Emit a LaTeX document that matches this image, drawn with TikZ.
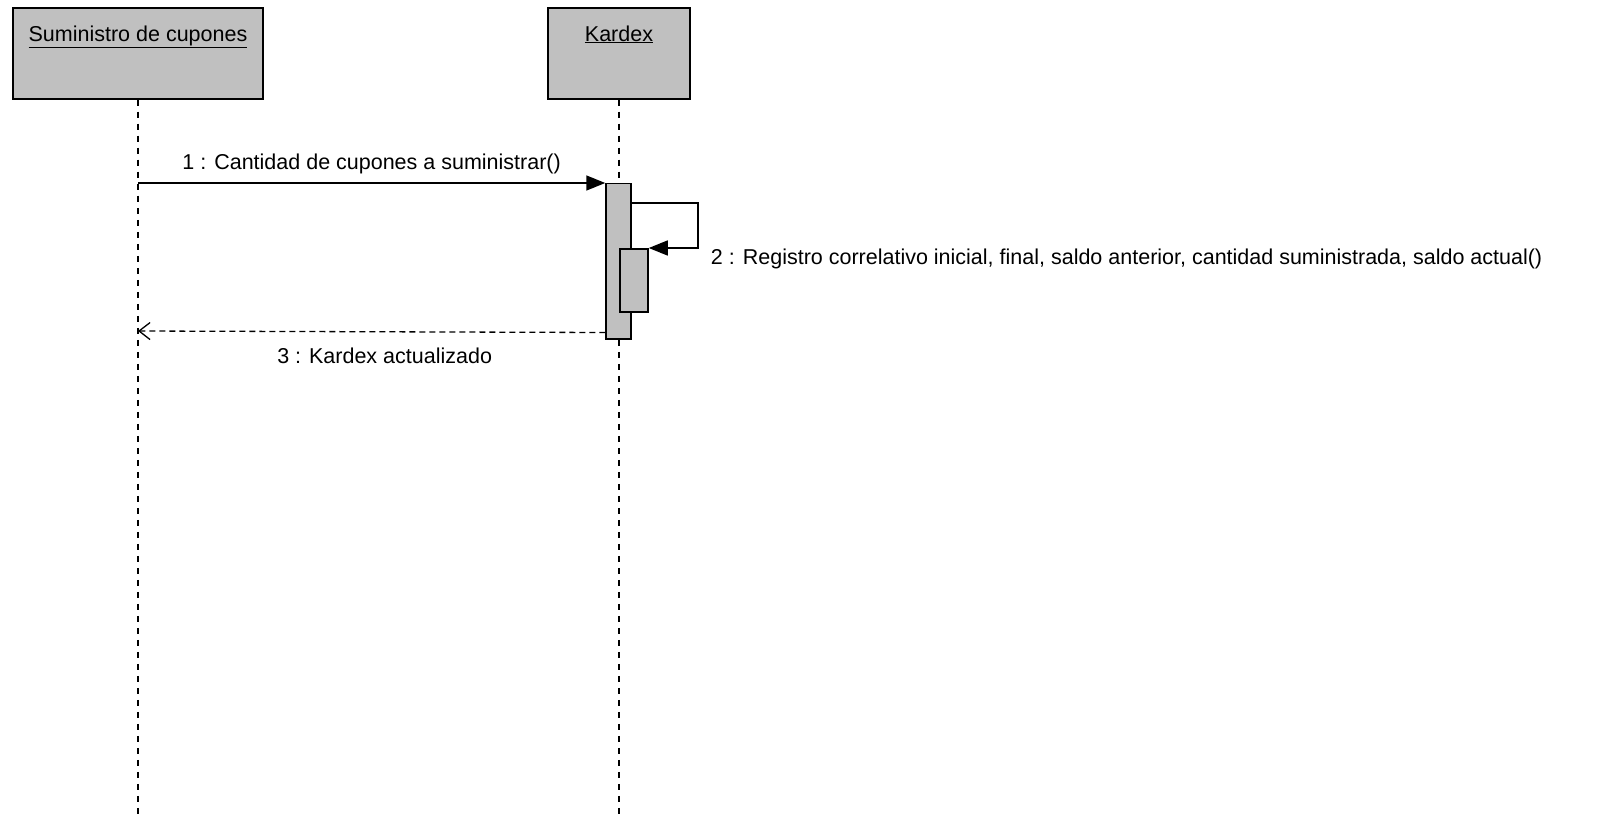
\documentclass[tikz,border=0pt]{standalone}
\usepackage{fontspec}
\setmainfont{Liberation Sans}
\usetikzlibrary{arrows.meta,positioning}

\definecolor{boxgray}{RGB}{192,192,192}

\tikzset{
  actor/.style={draw, fill=boxgray, line width=1.5pt, minimum width=250pt, minimum height=91pt, inner sep=0pt},
  actortext/.style={anchor=north, inner sep=0pt, yshift=-18pt, font=\fontsize{21.5}{25}\selectfont},
  activation/.style={draw, fill=boxgray, line width=1.5pt, anchor=north, inner sep=0pt},
  lifeline/.style={line width=1.3pt, dash pattern=on 6pt off 6pt},
  call/.style={line width=1.5pt, -{Triangle[length=19pt, width=15pt]}},
  reply/.style={line width=1.3pt, dash pattern=on 6pt off 4pt, -{Straight Barb[length=11pt, width=17pt, line width=1.3pt]}},
  msg/.style={font=\fontsize{21.5}{25}\selectfont, inner sep=0pt}
}

\begin{document}
\begin{tikzpicture}[x=1pt, y=-1pt]
\useasboundingbox (0,0) rectangle (1597,821);

% actors
\node[actor, label={[actortext]north:\underline{Suministro de cupones}}] (sup) at (138,53.5) {};
\node[actor, minimum width=142pt, label={[actortext]north:\underline{Kardex}}] (kar) at (619,53.5) {};

% lifelines
\coordinate (supend) at (138,815);
\coordinate (karend) at (619,815);
\draw[lifeline] (sup.south) -- (supend);
\draw[lifeline] (kar.south) -- (karend);

% activations
\node[activation, minimum width=25pt, minimum height=155pt] (act1) at (618.5,183) {};
\node[activation, minimum width=28pt, minimum height=63pt] (act2) at (634,248) {};

% messages
\coordinate (m1) at (138,183);
\draw[call] (m1) -- (act1.north west)
  node[msg, midway, above=8pt] {1 : Cantidad de cupones a suministrar()};

\coordinate (selfr) at ([xshift=66pt, yshift=-20pt]act1.north east);
\draw[call] ([yshift=-20pt]act1.north east) -- (selfr) |- (act2.north east);
\node[msg, anchor=west] (m2lbl) at ([xshift=13pt, yshift=-56pt]selfr) {2 : Registro correlativo inicial, final, saldo anterior, cantidad suministrada, saldo actual()};

\coordinate (m3) at (138,331);
\draw[reply] ([yshift=7pt]act1.south west) -- (m3)
  node[msg, midway, below=16pt, xshift=13pt] {3 : Kardex actualizado};
\end{tikzpicture}
\end{document}
